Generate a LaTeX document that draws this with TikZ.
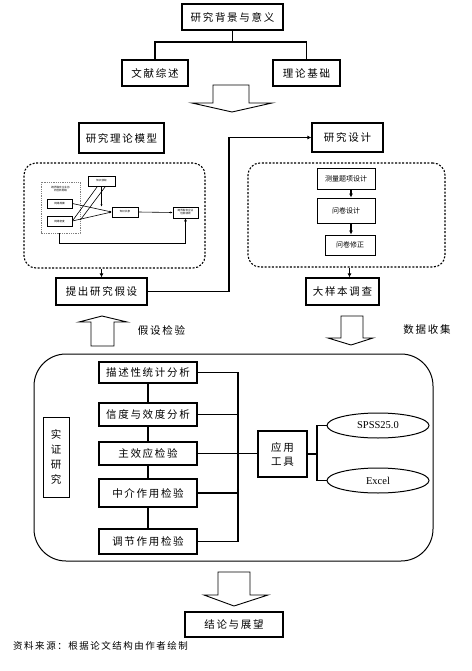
\documentclass[tikz,border=0pt]{standalone}
\usepackage{fontspec}
\setmainfont{Liberation Serif}
\newfontfamily\cjk[LetterSpace=16]{Noto Sans CJK SC}
\newfontfamily\cjks{Noto Sans CJK SC}
\usetikzlibrary{shapes.geometric,calc,arrows.meta}
\begin{document}
\begin{tikzpicture}[x=1pt,y=-1pt,
  box/.style={draw, line width=1.1pt, inner sep=0pt, align=center, font=\cjk\fontsize{10.5}{12}\selectfont},
  sbox/.style={draw, line width=0.7pt, inner sep=0pt, align=center, font=\cjks\fontsize{2.6}{3}\selectfont},
  ln/.style={line width=1.1pt},
  arr/.style={line width=1.1pt, -{Latex[length=4pt,width=4pt]}},
  sarr/.style={line width=0.6pt, -{Latex[length=2.2pt,width=2pt]}},
  sln/.style={line width=0.6pt},
  dbox/.style={draw, line width=1.1pt, dash pattern=on 2pt off 1.6pt, rounded corners=12pt, inner sep=0pt},
  hollow/.style={draw, line width=0.9pt, fill=white, line join=miter},
  lbl/.style={font=\cjk\fontsize{10.5}{12}\selectfont, inner sep=0pt},
  oval/.style={draw, ellipse, line width=1pt, inner sep=0pt, minimum width=102pt, minimum height=25pt, font=\fontsize{10.5}{12}\selectfont}
]
\useasboundingbox[fill=white] (0,0) rectangle (471,671);

% ---- top part
\node[box, minimum width=101pt, minimum height=26pt] (top) at (232.5,17) {研究背景与意义};
\node[box, minimum width=66pt, minimum height=26pt] (wxzs) at (155,73) {文献综述};
\node[box, minimum width=67pt, minimum height=26pt] (lljc) at (306.5,73) {理论基础};
\coordinate (j1) at (232.5,42);
\draw[ln] (top.south) -- (j1);
\draw[ln] (wxzs.north) |- (j1) -| (lljc.north);

\draw[hollow] (213,85) -- (213,103) -- (192,103) -- (232,112) -- (272,103) -- (249,103) -- (249,85) -- cycle;

\node[box, minimum width=85pt, minimum height=30pt] (llmx) at (121.5,138) {研究理论模型};
\node[box, minimum width=71pt, minimum height=29pt] (yjsj) at (347.5,137.5) {研究设计};

% dashed boxes
\node[dbox, minimum width=181pt, minimum height=105pt] (ldash) at (114.5,215.5) {};
\node[dbox, minimum width=197pt, minimum height=104pt] (rdash) at (346.5,215) {};

% small model
\draw[line width=0.8pt, gray, dash pattern=on 1pt off 0.8pt] (41,182) rectangle (80,233);
\node[font=\cjks\fontsize{2.6}{3.2}\selectfont, align=center, inner sep=0pt] (mt) at (60.5,189) {跨界融合企业协\\同创新网络};
\node[sbox, minimum width=25pt, minimum height=9pt] (ma) at (59.5,203.5) {网络规模};
\node[sbox, minimum width=25pt, minimum height=10pt] (mb) at (59.5,221) {网络密度};
\node[sbox, minimum width=27pt, minimum height=10pt] (mtop) at (101.5,181) {知识获取};
\node[sbox, minimum width=26pt, minimum height=10pt] (mm) at (125,212) {知识共享};
\node[sbox, minimum width=25pt, minimum height=11pt] (mr) at (185.5,212.5) {跨界融合企业\\创新绩效};
\coordinate (mbot) at (59,233);
\draw[sarr] (ma.east) -- (mm.west);
\draw[sarr] (mb.east) -- (mm.west);
\draw[sarr] (mtop.south) -- (mtop.south |- mm.north);
\draw[sln] ($(mtop.south)+(-4,0)$) -- (mb.east);
\draw[sln] ($(mtop.south)+(4,0)$) -- ($(mb.east)+(8,-1)$);
\draw[sarr] (mm.east) -- (mr.west);
\draw[line width=1pt, -{Latex[length=3pt,width=3pt]}] (mbot) -- ++(0,10) -| (mr.south);

% right inner boxes
\node[draw, line width=0.9pt, inner sep=0pt, minimum width=58pt, minimum height=21pt, font=\cjks\fontsize{7}{8}\selectfont] (clsx) at (346,178.5) {测量题项设计};
\node[draw, line width=0.9pt, inner sep=0pt, minimum width=58pt, minimum height=25pt, font=\cjks\fontsize{7}{8}\selectfont] (wjsj) at (346,210.5) {问卷设计};
\node[draw, line width=0.9pt, inner sep=0pt, minimum width=50pt, minimum height=20pt, font=\cjks\fontsize{7}{8}\selectfont] (wjxz) at (350,245) {问卷修正};
\draw[arr] ($(clsx.south)+(5,0)$) -- ($(wjsj.north)+(5,0)$);
\draw[arr] ($(wjsj.south)+(5,0)$) -- ($(wjxz.north)+(1,0)$);

\node[box, minimum width=91pt, minimum height=27pt] (tcjs) at (101.5,291.5) {提出研究假设};
\node[box, minimum width=73pt, minimum height=27pt] (dyb) at (342.5,291.5) {大样本调查};
\draw[arr] (tcjs.north |- ldash.south) -- (tcjs.north);
\draw[arr] ($(dyb.north |- rdash.south)+(7,0)$) -- ($(dyb.north)+(7,0)$);
\coordinate (bx) at (229,200);
\draw[arr] (tcjs.east) -- (tcjs.east -| bx) |- (yjsj.west);

% hollow arrows mid
\draw[hollow] (91,346) -- (91,322) -- (79,322) -- (102,316) -- (127,322) -- (114,322) -- (114,346) -- cycle;
\node[lbl] (jsjy) at (161.5,330) {假设检验};
\draw[hollow] (341,316) -- (341,338) -- (328,338) -- (351,345) -- (373,338) -- (363,338) -- (363,316) -- cycle;
\node[lbl] (sjsj) at (427,330) {数据收集};

% big box
\node[draw, line width=1pt, rounded corners=32pt, minimum width=399pt, minimum height=207pt] (big) at (233.5,457.5) {};
\node[draw, line width=0.9pt, inner sep=0pt, minimum width=26pt, minimum height=80pt, align=center, font=\cjk\fontsize{10.5}{15.3}\selectfont] (szyj) at (56,457) {实\\证\\研\\究};

\node[box, minimum width=98pt, minimum height=21pt] (b1) at (148,372.5) {描述性统计分析};
\node[box, minimum width=98pt, minimum height=23pt] (b2) at (148,414.5) {信度与效度分析};
\node[box, minimum width=98pt, minimum height=23pt] (b3) at (148,453.5) {主效应检验};
\node[box, minimum width=98pt, minimum height=28pt] (b4) at (148,493) {中介作用检验};
\node[box, minimum width=98pt, minimum height=25pt] (b5) at (148,541.5) {调节作用检验};
\draw[ln] (b1) -- (b2);
\draw[ln] (b2) -- (b3);
\draw[ln] (b3) -- (b4);
\draw[ln] (b4) -- (b5);
\coordinate (bus) at (238,450);
\draw[ln] (b1.east) -- (b1.east -| bus) -- (b5.east -| bus) -- (b5.east);
\draw[ln] (b2.east) -- (b2.east -| bus);
\draw[ln] (b3.east) -- (b3.east -| bus);
\draw[ln] (b4.east) -- (b4.east -| bus);

\node[box, minimum width=49pt, minimum height=46pt, font=\cjk\fontsize{10.5}{14}\selectfont] (yygj) at (282.5,454) {应用\\工具};
\draw[ln] (b3.east -| bus) -- (b3.east -| yygj.west);

\node[oval] (spss) at (378,425.5) {SPSS25.0};
\node[oval] (excel) at (378,480.5) {Excel};
\coordinate (rb) at (317,450);
\draw[ln] (yygj.east) -- (yygj.east -| rb);
\draw[ln] (spss.west) -- (spss.west -| rb) -- (excel.west -| rb) -- (excel.west);

% bottom
\draw[hollow] (218,572) -- (218,595) -- (204,595) -- (234,606) -- (268,595) -- (250,595) -- (250,572) -- cycle;
\node[box, minimum width=98pt, minimum height=25pt] (jl) at (234,624.5) {结论与展望};
\node[anchor=west, inner sep=0pt, font=\cjk\fontsize{9.5}{11}\selectfont] (src) at (13,646) {资料来源：根据论文结构由作者绘制};
\end{tikzpicture}
\end{document}
